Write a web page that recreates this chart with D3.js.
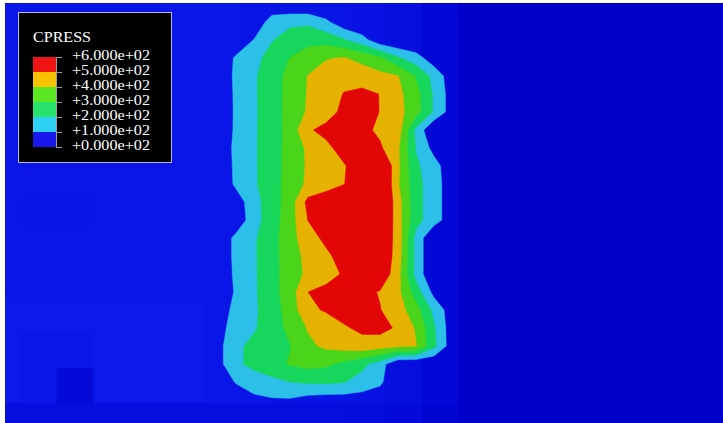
<!DOCTYPE html>
<html>
<head>
<meta charset="utf-8">
<script src="https://cdn.jsdelivr.net/npm/d3@7"></script>
<style>
  html, body { margin: 0; padding: 0; background: #ffffff; }
  svg { display: block; }
</style>
</head>
<body>
<svg id="chart" width="723" height="423"></svg>
<script>
// Contour levels of contact pressure (CPRESS) and their fill colours
const levels = [0, 100, 200, 300, 400, 500, 600];
const levelLabels = ["+0.000e+02", "+1.000e+02", "+2.000e+02", "+3.000e+02",
                     "+4.000e+02", "+5.000e+02", "+6.000e+02"];
const bandColors   = ["#0a14e0", "#2cbfe8", "#16d75c", "#4ad41a", "#e6b200", "#e20606"];
const legendColors = ["#1818ec", "#2ed0f4", "#28e46a", "#5ce624", "#f8c200", "#ee1414"];

// Nodal contact pressure on the contact patch, 16 columns x 24 rows
const nCols = 16;
const nRows = 24;
const cpress = [
  [0,0,0,0,0,0,0,0,0,0,0,0,0,0,0,0],
  [0,0,0,0,160,180,180,120,30,0,0,0,0,0,0,0],
  [0,0,0,105,195,240,270,260,210,140,30,0,0,0,0,0],
  [0,0,118,173,233,302,347,395,405,370,315,213,141,42,0,0],
  [0,10,124,186,256,330,403,432,460,453,428,403,292,165,42,0],
  [0,0,121,186,256,332,407,446,505,524,498,426,333,186,50,0],
  [0,0,119,185,256,333,412,465,521,535,498,432,340,186,50,0],
  [0,0,121,186,256,333,490,524,577,530,478,450,175,0,0,0],
  [0,17,127,187,256,335,417,479,534,574,516,413,193,67,0,0],
  [0,8,124,186,256,337,413,453,493,552,650,417,218,138,33,0],
  [0,0,121,186,256,341,418,458,498,550,650,411,233,144,42,0],
  [0,0,42,165,252,347,530,560,580,575,650,440,233,144,42,0],
  [0,0,25,160,255,353,502,540,580,575,650,440,233,144,42,0],
  [0,17,127,187,264,359,461,522,558,570,600,457,167,0,0,0],
  [0,17,127,187,264,353,429,480,540,570,600,450,167,0,0,0],
  [0,8,124,186,264,350,420,465,510,555,584,433,167,0,0,0],
  [0,0,115,185,264,350,500,525,558,530,493,426,250,67,0,0],
  [0,42,131,183,255,340,480,509,547,543,504,443,340,173,42,0],
  [0,67,139,189,252,325,407,447,487,522,533,485,390,210,42,0],
  [0,67,178,227,262,296,380,418,440,460,440,420,404,222,42,0],
  [0,67,178,231,271,307,331,318,276,227,150,0,0,0,0,0],
  [0,0,110,140,170,200,212,216,204,160,120,0,0,0,0,0],
  [0,0,0,80,90,90,60,50,50,50,30,0,0,0,0,0],
  [0,0,0,0,0,0,0,0,0,0,0,0,0,0,0,0]
];

// Shading of the uncontacted surface elements (0 = dark, 1 = lit), 21 columns x 13 rows
const shadeCols = 21;
const shadeRows = 13;
const surfaceShade = [
  [0.8,0.8,0.8,0.8,0.8,0.8,0.8,0.75,0.7,0.7,0.65,0.55,0.3,0,0,0,0,0,0,0,0],
  [0.8,0.8,0.8,0.8,0.8,0.8,0.8,0.75,0.7,0.7,0.65,0.55,0.3,0,0,0,0,0,0,0,0],
  [0.8,0.8,0.8,0.8,0.8,0.8,0.8,0.75,0.7,0.7,0.65,0.55,0.3,0,0,0,0,0,0,0,0],
  [0.8,0.8,0.8,0.8,0.8,0.8,0.8,0.75,0.7,0.7,0.65,0.55,0.3,0,0,0,0,0,0,0,0],
  [0.8,0.8,0.8,0.8,0.8,0.8,0.8,0.75,0.7,0.7,0.65,0.55,0.3,0,0,0,0,0,0,0,0],
  [0.8,0.8,0.8,0.8,0.8,0.8,0.8,0.75,0.7,0.7,0.65,0.55,0.3,0,0,0,0,0,0,0,0],
  [0.8,0.75,0.75,0.8,0.8,0.8,0.8,0.75,0.7,0.7,0.65,0.55,0.3,0,0,0,0,0,0,0,0],
  [0.8,0.8,0.8,0.8,0.8,0.8,0.8,0.75,0.7,0.7,0.65,0.55,0.3,0,0,0,0,0,0,0,0],
  [0.8,0.8,0.8,0.8,0.8,0.8,0.8,0.75,0.7,0.7,0.65,0.55,0.3,0,0,0,0,0,0,0,0],
  [0.85,0.85,0.85,0.85,0.85,0.85,0.8,0.75,0.7,0.7,0.65,0.55,0.3,0,0,0,0,0,0,0,0],
  [0.85,0.8,0.8,0.85,0.85,0.85,0.8,0.75,0.7,0.7,0.65,0.55,0.3,0,0,0,0,0,0,0,0],
  [0.85,0.8,0.35,0.85,0.85,0.85,0.8,0.75,0.7,0.7,0.65,0.55,0.3,0,0,0,0,0,0,0,0],
  [0.55,0.55,0.55,0.55,0.55,0.55,0.55,0.5,0.5,0.5,0.45,0.35,0.2,0,0,0,0,0,0,0,0]
];

const svg = d3.select("#chart");
const plot = { x0: 5, y0: 3, x1: 723, y1: 423 };

// Grid units -> pixels
const x = d3.scaleLinear().domain([0, nCols]).range([191, 191 + nCols * 18]);
const y = d3.scaleLinear().domain([0, nRows]).range([-5, -5 + nRows * 18]);
const fill = d3.scaleThreshold().domain(levels.slice(1, -1)).range(bandColors);

// Surface element blocks behind the contact patch
const sx = d3.scaleBand().domain(d3.range(shadeCols)).range([-16.5, -16.5 + shadeCols * 36.5]);
const sy = d3.scaleBand().domain(d3.range(shadeRows)).range([-17, -17 + shadeRows * 35]);
const shadeColor = d3.scaleLinear().domain([0, 1]).range(["#0000cc", "#0c1cee"]).interpolate(d3.interpolateRgb);

svg.append("defs").append("clipPath").attr("id", "plotClip")
  .append("rect")
  .attr("x", plot.x0).attr("y", plot.y0)
  .attr("width", plot.x1 - plot.x0).attr("height", plot.y1 - plot.y0);

const g = svg.append("g").attr("clip-path", "url(#plotClip)");

const cells = surfaceShade.flatMap((row, r) => row.map((v, c) => ({ r, c, v })));
g.selectAll("rect.cell")
  .data(cells)
  .join("rect")
  .attr("class", "cell")
  .attr("x", d => sx(d.c)).attr("y", d => sy(d.r))
  .attr("width", sx.bandwidth() + 0.5).attr("height", sy.bandwidth() + 0.5)
  .attr("fill", d => shadeColor(d.v));

// Filled contour bands
const values = cpress.flat();
const contours = d3.contours()
  .size([nCols, nRows])
  .thresholds(levels.slice(1, -1))(values);

const projection = d3.geoTransform({
  point(px, py) { this.stream.point(x(px), y(py)); }
});
const path = d3.geoPath(projection);

g.selectAll("path.band")
  .data(contours)
  .join("path")
  .attr("class", "band")
  .attr("d", path)
  .attr("fill", d => fill(d.value))
  .attr("stroke", d => fill(d.value))
  .attr("stroke-width", 0.5);

// Legend
const legend = svg.append("g").attr("class", "legend");
legend.append("rect")
  .attr("x", 18.5).attr("y", 12.5).attr("width", 153).attr("height", 150)
  .attr("fill", "#000000").attr("stroke", "#b8b8e8").attr("stroke-width", 1);

legend.append("text")
  .attr("x", 33).attr("y", 42)
  .attr("fill", "#ffffff")
  .attr("font-family", "'Liberation Serif', 'DejaVu Serif', serif")
  .attr("font-size", 15)
  .attr("textLength", 58).attr("lengthAdjust", "spacingAndGlyphs")
  .text("CPRESS");

const ly = d3.scaleLinear().domain([0, 600]).range([147, 57]);
const bands = d3.range(levels.length - 1).map(i => ({ lo: levels[i], hi: levels[i + 1], color: legendColors[i] }));

legend.selectAll("rect.swatch")
  .data(bands)
  .join("rect")
  .attr("class", "swatch")
  .attr("x", 33).attr("width", 23)
  .attr("y", d => ly(d.hi)).attr("height", d => ly(d.lo) - ly(d.hi))
  .attr("fill", d => d.color);

legend.append("line")
  .attr("x1", 56.5).attr("x2", 56.5)
  .attr("y1", ly(600)).attr("y2", ly(0))
  .attr("stroke", "#9a9a9a").attr("stroke-width", 1);

legend.selectAll("line.tick")
  .data(levels)
  .join("line")
  .attr("class", "tick")
  .attr("x1", 56).attr("x2", 62)
  .attr("y1", d => Math.round(ly(d)) + 0.5).attr("y2", d => Math.round(ly(d)) + 0.5)
  .attr("stroke", "#9a9a9a").attr("stroke-width", 1);

legend.selectAll("text.lbl")
  .data(levels)
  .join("text")
  .attr("class", "lbl")
  .attr("x", 72)
  .attr("y", d => ly(d) + 2.5)
  .attr("fill", "#ffffff")
  .attr("font-family", "'Liberation Serif', 'DejaVu Serif', serif")
  .attr("font-size", 15)
  .attr("textLength", 78).attr("lengthAdjust", "spacingAndGlyphs")
  .text((d, i) => levelLabels[i]);
</script>
</body>
</html>
